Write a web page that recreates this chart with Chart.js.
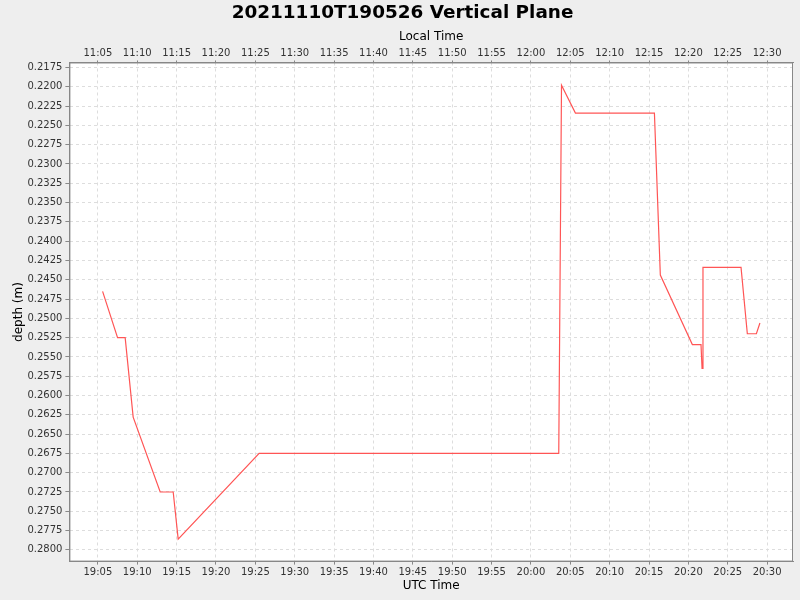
<!DOCTYPE html>
<html>
<head>
<meta charset="utf-8">
<script src="https://cdn.jsdelivr.net/npm/chart.js@4.4.0/dist/chart.umd.min.js"></script>
<style>
  body { margin: 0; background: #eeeeee; }
  canvas { display: block; }
</style>
</head>
<body>
<canvas id="myChart" width="800" height="600"></canvas>
<script>
// UTC sample times and depth readings (m)
const times = [
  '19:05:36', '19:07:30', '19:08:28', '19:09:29', '19:12:55', '19:14:34', '19:15:12',
  '19:25:29', '20:03:32', '20:03:53', '20:05:39', '20:15:41', '20:16:26', '20:20:30',
  '20:21:36', '20:21:44', '20:21:51', '20:26:41', '20:27:29', '20:28:38', '20:29:05'
];
const depths = [
  0.2465, 0.2525, 0.2525, 0.2628, 0.2725, 0.2725, 0.2786,
  0.2675, 0.2675, 0.2198, 0.2234, 0.2234, 0.2444, 0.2534,
  0.2534, 0.2565, 0.2434, 0.2434, 0.2520, 0.2520, 0.2506
];
const utcRange = ['19:01:23', '20:33:17'];
const depthRange = [0.21685, 0.28152];
const localOffsetHours = -8;

function toSec(s) {
  const p = s.split(':').map(Number);
  return p[0] * 3600 + p[1] * 60 + (p[2] || 0);
}
function fmt(sec) {
  sec = ((sec % 86400) + 86400) % 86400;
  const h = Math.floor(sec / 3600);
  const m = Math.round((sec % 3600) / 60);
  return String(h).padStart(2, '0') + ':' + String(m).padStart(2, '0');
}

const points = times.map((t, i) => ({ x: toSec(t), y: depths[i] }));

//Plot background and frame
const plotFrame = {
  id: 'plotFrame',
  beforeDraw(chart) {
    const a = chart.chartArea, ctx = chart.ctx;
    ctx.save();
    ctx.fillStyle = '#ffffff';
    ctx.fillRect(a.left, a.top, a.right - a.left, a.bottom - a.top);
    ctx.restore();
  },
  afterDraw(chart) {
    const a = chart.chartArea, ctx = chart.ctx;
    ctx.save();
    ctx.strokeStyle = '#888888';
    ctx.lineWidth = 1;
    ctx.strokeRect(a.left + 0.5, a.top + 0.5, a.right - a.left - 1, a.bottom - a.top - 1);
    ctx.restore();
  }
};

Chart.defaults.font.family = '"DejaVu Sans", sans-serif';

const gridOpts = {
  color: '#dddddd',
  tickColor: '#888888',
  tickBorderDash: [],
  tickLength: 4,
  lineWidth: 1
};

let chart = document.getElementById('myChart').getContext('2d');
let myChart = new Chart(chart, {
  type: 'line',
  data: {
    datasets: [{
      label: 'depth',
      data: points,
      borderColor: '#ff5555',
      backgroundColor: '#ff5555',
      borderWidth: 1.2,
      pointRadius: 0,
      tension: 0,
      xAxisID: 'x',
      yAxisID: 'y'
    }]
  },
  options: {
    responsive: false,
    animation: false,
    devicePixelRatio: 1,
    layout: { padding: { left: 12, right: 7, top: 0, bottom: 7 } },
    plugins: {
      legend: { display: false },
      tooltip: { enabled: false },
      title: {
        display: true,
        text: '20211110T190526 Vertical Plane',
        color: '#000000',
        font: { size: 18.4, weight: 'bold' },
        padding: { top: 2, bottom: 6 }
      }
    },
    scales: {
      x: {
        type: 'linear',
        position: 'bottom',
        min: toSec(utcRange[0]),
        max: toSec(utcRange[1]),
        grid: Object.assign({}, gridOpts, { tickLength: 3 }),
        border: { color: '#888888', dash: [3, 3] },
        ticks: {
          stepSize: 300,
          includeBounds: false,
          autoSkip: false,
          maxRotation: 0,
          color: '#333333',
          font: { size: 10 },
          padding: 2,
          callback: v => fmt(v)
        },
        title: { display: true, text: 'UTC Time', color: '#000000', font: { size: 12 }, padding: { top: -2, bottom: 0 } }
      },
      x2: {
        type: 'linear',
        position: 'top',
        min: toSec(utcRange[0]),
        max: toSec(utcRange[1]),
        grid: Object.assign({}, gridOpts, { drawOnChartArea: false, tickLength: 2 }),
        border: { color: '#888888' },
        ticks: {
          stepSize: 300,
          includeBounds: false,
          autoSkip: false,
          maxRotation: 0,
          color: '#333333',
          font: { size: 10 },
          padding: 1,
          callback: v => fmt(v + localOffsetHours * 3600)
        },
        title: { display: true, text: 'Local Time', color: '#000000', font: { size: 12 }, padding: { top: 0, bottom: 2 } }
      },
      y: {
        type: 'linear',
        reverse: true,
        min: depthRange[0],
        max: depthRange[1],
        grid: gridOpts,
        border: { color: '#888888', dash: [3, 3] },
        ticks: {
          stepSize: 0.0025,
          includeBounds: false,
          autoSkip: false,
          color: '#333333',
          font: { size: 10 },
          padding: 3,
          callback: v => v.toFixed(4)
        },
        title: { display: true, text: 'depth (m)', color: '#000000', font: { size: 12 }, padding: { top: 0, bottom: -2 } }
      }
    }
  },
  plugins: [plotFrame]
});
</script>
</body>
</html>
